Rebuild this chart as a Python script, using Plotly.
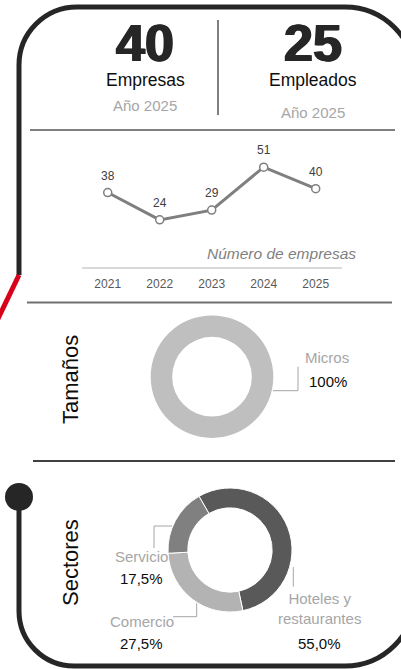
import plotly.graph_objects as go

W, H = 401, 669

# ---------------- data ----------------
years = ["2021", "2022", "2023", "2024", "2025"]
empresas_por_ano = [38, 24, 29, 51, 40]

kpi_values = [40, 25]
kpi_labels = ["Empresas", "Empleados"]
kpi_sub = ["Año 2025", "Año 2025"]

size_labels = ["Micros"]
size_values = [100]

sector_labels = ["Hoteles y<br>restaurantes", "Comercio", "Servicio"]
sector_values = [55.0, 27.5, 17.5]

FONT = "Liberation Sans, Arial, sans-serif"
DARK = "#262626"


def px(x):
    return x / W


def py(y):
    return 1 - y / H


def P(x, y):
    return f"{px(x):.5f},{py(y):.5f}"


fig = go.Figure()


def note(x, y, text, size, color, xanchor="center", angle=0, **fontkw):
    fig.add_annotation(x=px(x), y=py(y), xref="paper", yref="paper", showarrow=False,
                       xanchor=xanchor, yanchor="middle", textangle=angle, text=text,
                       font=dict(family=FONT, size=size, color=color, **fontkw))


# ---------------- line chart ----------------
fig.add_trace(go.Scatter(
    x=years, y=empresas_por_ano, mode="lines+markers",
    line=dict(color="#7f7f7f", width=3),
    marker=dict(size=8, color="white", line=dict(color="#7f7f7f", width=1.5)),
    hoverinfo="skip", showlegend=False, cliponaxis=False,
))
for i, v in enumerate(empresas_por_ano):
    fig.add_annotation(x=i, y=v, xref="x", yref="y", text=str(v), showarrow=False,
                       xanchor="center", yanchor="middle",
                       yshift=17, font=dict(family=FONT, size=12, color="#404040"))

fig.update_layout(
    xaxis=dict(domain=[px(81.7), px(341.7)], type="category", range=[-0.5, 4.5],
               showline=True, linecolor="#d9d9d9", linewidth=1.5, showgrid=False,
               zeroline=False, ticks="", fixedrange=True,
               tickfont=dict(family=FONT, size=12, color="#595959"),
               ticklabelstandoff=5),
    yaxis=dict(domain=[py(266.7), py(149.6)], range=[0, 60], visible=False,
               showgrid=False, zeroline=False, fixedrange=True),
)

note(357.7, 253, "<i>Número de empresas</i>", 15.5, "#7f7f7f", xanchor="right")

# ---------------- donut: tamaños ----------------
c1x, c1y, r1 = 212, 376.7, 61.3
fig.add_trace(go.Pie(
    labels=size_labels, values=size_values, hole=0.65, sort=False,
    textinfo="none", hoverinfo="skip", showlegend=False,
    marker=dict(colors=["#bfbfbf"], line=dict(color="white", width=0)),
    domain=dict(x=[px(c1x - r1), px(c1x + r1)], y=[py(c1y + r1), py(c1y - r1)]),
))
note(327, 357, size_labels[0], 15, "#a6a6a6")
note(328, 381, f"{size_values[0]}%", 15, "#0d0d0d")

# ---------------- donut: sectores ----------------
c2x, c2y, r2 = 230, 550, 62
fig.add_trace(go.Pie(
    labels=sector_labels, values=sector_values, hole=0.68, sort=False,
    direction="clockwise", rotation=-30,
    textinfo="none", hoverinfo="skip", showlegend=False,
    marker=dict(colors=["#595959", "#b3b3b3", "#808080"], line=dict(color="white", width=1)),
    domain=dict(x=[px(c2x - r2), px(c2x + r2)], y=[py(c2y + r2), py(c2y - r2)]),
))


def pct(v):
    return f"{v:.1f}%".replace(".", ",")


sector_pos = [(319, 608, 643.3), (141.7, 621.7, 643.3), (141.7, 556.7, 578)]
for lab, v, (x, yl, yv) in zip(sector_labels, sector_values, sector_pos):
    note(x, yl, lab, 15, "#a6a6a6")
    note(x, yv, pct(v), 15, "#0d0d0d")

# ---------------- header KPIs ----------------
kpi_x = [145, 313]
sub_y = [105, 112]
for x, v, lab, sub, sy in zip(kpi_x, kpi_values, kpi_labels, kpi_sub, sub_y):
    note(x, 43, f"<b>{v}</b>", 52, DARK, shadow=f"1px 0 0 {DARK}, -1px 0 0 {DARK}")
    note(x, 80, lab, 17.5, "#0d0d0d")
    note(x, sy, sub, 15, "#a6a6a6")

# ---------------- section titles ----------------
note(70, 380, "Tamaños", 22, "#0d0d0d", angle=-90)
note(70, 563, "Sectores", 22, "#0d0d0d", angle=-90)

# ---------------- decorative shapes ----------------
shapes = []


def line(x0, y0, x1, y1, color, width):
    shapes.append(dict(type="line", xref="paper", yref="paper",
                       x0=px(x0), y0=py(y0), x1=px(x1), y1=py(y1),
                       line=dict(color=color, width=width)))


# separators
line(218, 20, 218, 115, "#7f7f7f", 2)
line(30, 130, 395, 130, "#7f7f7f", 2)
line(27, 302.5, 392, 302.5, "#707070", 2)
line(33, 461, 395, 461, "#404040", 2)

# leader lines
lg = "#a6a6a6"
line(273, 390.7, 298, 390.7, lg, 1)
line(298, 390.7, 298, 366.7, lg, 1)
line(154, 548, 154, 526, lg, 1)
line(154, 526, 172, 526, lg, 1)
line(173, 616.7, 196.7, 616.7, lg, 1)
line(196.7, 616.7, 196.7, 603.3, lg, 1)
line(293.3, 567, 293.3, 586.7, lg, 1)

# frame
k = 0.5523
L, T, RX, B = 19, 7, 415, 666
R1, R2, R3 = 58, 70, 55
path = (
    f"M {P(L, 275)} L {P(L, T + R1)} "
    f"C {P(L, T + R1 - k * R1)} {P(L + R1 - k * R1, T)} {P(L + R1, T)} "
    f"L {P(RX - R2, T)} "
    f"C {P(RX - R2 + k * R2, T)} {P(RX, T + R2 - k * R2)} {P(RX, T + R2)} "
    f"L {P(RX, B - R2)} "
    f"C {P(RX, B - R2 + k * R2)} {P(RX - R2 + k * R2, B)} {P(RX - R2, B)} "
    f"L {P(L + R3, B)} "
    f"C {P(L + R3 - k * R3, B)} {P(L, B - R3 + k * R3)} {P(L, B - R3)} "
    f"L {P(L, 497)}"
)
shapes.append(dict(type="path", xref="paper", yref="paper", path=path,
                   line=dict(color=DARK, width=5)))
# red diagonal
line(19, 275, -6, 327, "#d9001b", 5)
# dot
shapes.append(dict(type="circle", xref="paper", yref="paper",
                   x0=px(5), x1=px(33), y0=py(511), y1=py(483),
                   fillcolor=DARK, line=dict(color=DARK, width=0)))

fig.update_layout(
    width=W, height=H, margin=dict(l=0, r=0, t=0, b=0),
    paper_bgcolor="white", plot_bgcolor="white",
    shapes=shapes, showlegend=False,
)

fig.write_html("out.html", config={"displayModeBar": False},
               post_script="document.body.style.margin='0px';document.body.style.overflow='hidden';")
